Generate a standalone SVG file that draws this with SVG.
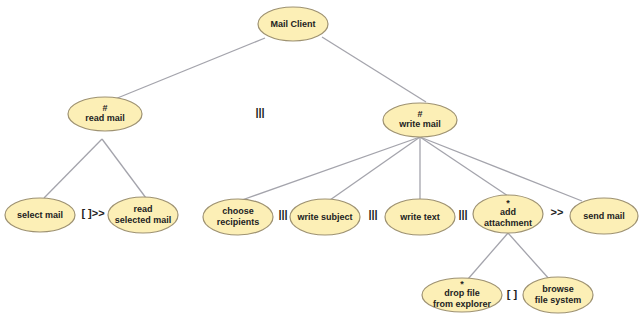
<svg xmlns="http://www.w3.org/2000/svg" width="640" height="320" viewBox="0 0 640 320">
  <style>
    .node ellipse { fill: #fcefb6; stroke: #9e9272; stroke-width: 1.2; }
    .node text { font-family: "Liberation Sans", Arial, sans-serif; font-size: 9px; font-weight: bold; fill: #222; text-anchor: middle; }
    .edges line { stroke: #a4a4ac; stroke-width: 1.3; }
    .op { font-family: "Liberation Sans", Arial, sans-serif; font-size: 11px; font-weight: bold; fill: #222; text-anchor: middle; }
  </style>
  <rect width="640" height="320" fill="#ffffff"/>

  <!-- connectors -->
  <g class="edges">
    <line x1="265" y1="38" x2="115" y2="99"/>
    <line x1="322" y1="37" x2="426" y2="102"/>
    <line x1="102" y1="139" x2="44" y2="198"/>
    <line x1="102" y1="139" x2="146" y2="198"/>
    <line x1="420" y1="137" x2="242" y2="200"/>
    <line x1="420" y1="137" x2="330" y2="200"/>
    <line x1="420" y1="137" x2="420" y2="199"/>
    <line x1="420" y1="137" x2="508" y2="196"/>
    <line x1="420" y1="137" x2="582" y2="201"/>
    <line x1="508" y1="233" x2="468" y2="279"/>
    <line x1="508" y1="233" x2="550" y2="280"/>
  </g>

  <!-- operators between siblings -->
  <text class="op" x="260" y="116">|||</text>
  <text class="op" x="93" y="217">[ ]&gt;&gt;</text>
  <text class="op" x="283" y="218">|||</text>
  <text class="op" x="373" y="218">|||</text>
  <text class="op" x="463" y="218">|||</text>
  <text class="op" x="557" y="216">&gt;&gt;</text>
  <text class="op" x="512" y="298">[ ]</text>

  <g id="mail-client" class="node">
    <ellipse cx="293" cy="24" rx="35" ry="17"/>
    <text x="293" y="27">Mail Client</text>
  </g>
  <g id="read-mail" class="node">
    <ellipse cx="105" cy="114" rx="37" ry="17"/>
    <text x="105" y="111">#</text>
    <text x="105" y="121">read mail</text>
  </g>
  <g id="write-mail" class="node">
    <ellipse cx="420" cy="120" rx="37" ry="17"/>
    <text x="420" y="117">#</text>
    <text x="420" y="127">write mail</text>
  </g>
  <g id="select-mail" class="node">
    <ellipse cx="40" cy="215" rx="35" ry="17"/>
    <text x="40" y="218">select mail</text>
  </g>
  <g id="read-selected-mail" class="node">
    <ellipse cx="143" cy="215" rx="35" ry="18"/>
    <text x="143" y="212">read</text>
    <text x="143" y="223">selected mail</text>
  </g>
  <g id="choose-recipients" class="node">
    <ellipse cx="238" cy="217" rx="35" ry="18"/>
    <text x="238" y="214">choose</text>
    <text x="238" y="225">recipients</text>
  </g>
  <g id="write-subject" class="node">
    <ellipse cx="325" cy="217" rx="35" ry="18"/>
    <text x="325" y="220">write subject</text>
  </g>
  <g id="write-text" class="node">
    <ellipse cx="420" cy="217" rx="35" ry="18"/>
    <text x="420" y="220">write text</text>
  </g>
  <g id="add-attachment" class="node">
    <ellipse cx="508" cy="214" rx="35" ry="19"/>
    <text x="508" y="206">*</text>
    <text x="508" y="215">add</text>
    <text x="508" y="226">attachment</text>
  </g>
  <g id="send-mail" class="node">
    <ellipse cx="604" cy="216" rx="34" ry="18"/>
    <text x="604" y="219">send mail</text>
  </g>
  <g id="drop-file" class="node">
    <ellipse cx="462" cy="295" rx="40" ry="17"/>
    <text x="462" y="287">*</text>
    <text x="462" y="296">drop file</text>
    <text x="462" y="307">from explorer</text>
  </g>
  <g id="browse-file-system" class="node">
    <ellipse cx="558" cy="295" rx="35" ry="18"/>
    <text x="558" y="292">browse</text>
    <text x="558" y="303">file system</text>
  </g>
</svg>
